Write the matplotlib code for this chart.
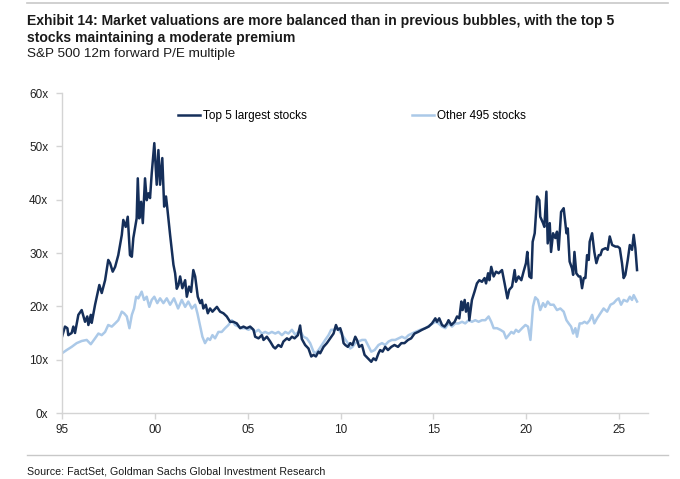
import matplotlib
matplotlib.use("Agg")
import matplotlib.pyplot as plt
from matplotlib.lines import Line2D

# ---- data (decimal year, P/E multiple) ----
top5_years = [
    1995.00, 1995.16, 1995.29, 1995.34, 1995.52, 1995.61, 1995.70, 1995.88,
    1996.06, 1996.24, 1996.36, 1996.42, 1996.55, 1996.60, 1996.78,
    1997.01, 1997.14, 1997.32, 1997.49, 1997.59, 1997.73, 1997.86,
    1998.03, 1998.22, 1998.30, 1998.43, 1998.54, 1998.66, 1998.76, 1998.84,
    1999.02, 1999.08, 1999.16, 1999.26, 1999.35, 1999.47, 1999.56, 1999.65, 1999.74, 1999.83, 1999.97,
    2000.10, 2000.19, 2000.28, 2000.40, 2000.50, 2000.60, 2000.67, 2000.82,
    2001.00, 2001.09, 2001.18, 2001.27, 2001.36, 2001.48, 2001.63, 2001.72, 2001.84, 2001.95,
    2002.07, 2002.17, 2002.31, 2002.44, 2002.53, 2002.61, 2002.74, 2002.85, 2002.97,
    2003.10, 2003.34, 2003.51, 2003.69, 2003.87,
    2004.05, 2004.23, 2004.41, 2004.59, 2004.77, 2004.95,
    2005.13, 2005.31, 2005.40, 2005.58, 2005.76, 2005.85,
    2006.03, 2006.21, 2006.38, 2006.48, 2006.65, 2006.80, 2006.92,
    2007.11, 2007.23, 2007.38, 2007.52, 2007.70, 2007.82, 2007.91,
    2008.09, 2008.27, 2008.42, 2008.54, 2008.67, 2008.81, 2008.90,
    2009.08, 2009.26, 2009.44, 2009.62, 2009.75, 2009.85, 2009.98,
    2010.07, 2010.16, 2010.25, 2010.39, 2010.52, 2010.64, 2010.79, 2010.88,
    2011.00, 2011.15, 2011.29, 2011.47, 2011.65, 2011.77, 2011.90,
    2012.04, 2012.13, 2012.26, 2012.40, 2012.55, 2012.73, 2012.90,
    2013.09, 2013.27, 2013.44, 2013.63, 2013.80, 2013.98,
    2014.17, 2014.38, 2014.56, 2014.74, 2014.92,
    2015.10, 2015.19, 2015.31, 2015.46, 2015.60, 2015.73, 2015.81, 2015.96,
    2016.14, 2016.27, 2016.39, 2016.50, 2016.57, 2016.68, 2016.75, 2016.86, 2016.93,
    2017.07, 2017.21, 2017.34, 2017.47, 2017.61, 2017.75, 2017.83, 2017.94,
    2018.01, 2018.11, 2018.24, 2018.37, 2018.51, 2018.69, 2018.83, 2018.98,
    2019.08, 2019.23, 2019.37, 2019.44, 2019.58, 2019.73, 2019.85, 2019.98,
    2020.05, 2020.16, 2020.27, 2020.34, 2020.45, 2020.58, 2020.70, 2020.75, 2020.90, 2020.97,
    2021.08, 2021.15, 2021.26, 2021.33, 2021.44, 2021.56, 2021.65, 2021.74, 2021.87,
    2022.01, 2022.16, 2022.23, 2022.33, 2022.46, 2022.52, 2022.59, 2022.69, 2022.82, 2022.91,
    2023.00, 2023.09, 2023.18, 2023.27, 2023.36, 2023.41, 2023.54, 2023.66, 2023.77, 2023.90, 2023.99,
    2024.08, 2024.26, 2024.38, 2024.49, 2024.62, 2024.80, 2024.92,
    2025.03, 2025.15, 2025.24, 2025.33, 2025.46, 2025.57, 2025.69, 2025.78, 2025.87, 2025.96,
]
top5_pe = [
    14.3, 16.2, 15.9, 14.6, 15.0, 16.2, 15.0, 18.4,
    19.3, 17.1, 18.1, 16.5, 18.4, 16.9, 20.3,
    24.0, 22.5, 24.9, 28.7, 28.1, 26.5, 27.4,
    29.6, 33.4, 36.2, 34.9, 36.8, 29.6, 29.3, 32.8,
    36.5, 44.0, 36.5, 39.6, 35.6, 44.0, 39.9, 41.2, 40.3, 44.9, 50.6,
    42.8, 49.3, 42.8, 47.8, 38.7, 40.6, 38.4, 33.4,
    27.8, 26.2, 23.3, 24.0, 25.6, 23.4, 24.9, 21.8, 23.7, 22.7,
    26.8, 25.6, 21.8, 20.6, 21.2, 19.6, 20.3, 18.7, 19.6,
    19.0, 19.9, 19.0, 18.7, 18.1,
    17.1, 17.1, 16.8, 15.9, 16.2, 15.9,
    16.2, 15.6, 14.3, 14.0, 14.6, 13.7,
    14.3, 13.4, 12.4, 12.1, 12.75, 12.4, 13.4,
    14.0, 13.7, 14.3, 14.0, 14.6, 16.4, 13.9,
    12.75, 12.1, 10.6, 10.9, 10.6, 11.5, 11.2,
    12.4, 13.1, 14.0, 14.9, 16.5, 15.6, 15.9,
    14.9, 13.1, 12.75, 12.4, 13.1, 12.75, 14.3, 13.7,
    12.4, 12.75, 10.9, 10.25, 9.6, 10.25, 9.9,
    11.2, 11.8, 11.5, 12.4, 11.8, 12.4, 12.75,
    12.4, 13.1, 13.1, 13.7, 14.0, 14.9,
    15.2, 15.6, 15.9, 16.2, 16.8,
    17.75, 17.1, 17.75, 16.5, 16.2, 16.8, 17.4, 16.5,
    17.1, 18.1, 17.75, 20.9, 19.3, 21.2, 19.0, 20.6, 17.4,
    21.2, 22.75, 24.3, 24.9, 24.6, 25.3, 24.3, 26.2,
    24.9, 27.4, 25.6, 26.5, 26.2, 26.8, 24.3, 21.5,
    23.1, 23.7, 26.8, 24.6, 25.6, 24.9, 26.5, 28.1,
    30.2, 25.6, 25.3, 32.1, 33.7, 40.6, 39.9, 36.8, 35.6, 34.9,
    41.5, 31.8, 35.6, 30.2, 33.7, 32.8, 34.0, 30.6, 37.7,
    38.4, 33.7, 34.6, 28.4, 27.1, 25.9, 30.2, 26.2, 25.6, 25.6,
    23.4, 25.3, 25.3, 29.6, 28.7, 32.1, 33.7, 30.2, 28.1, 29.6, 29.6,
    30.6, 30.9, 30.6, 33.1, 31.5, 31.2, 31.2,
    30.9, 28.1, 25.3, 25.9, 28.7, 31.5, 30.6, 33.4, 30.9, 26.8,
]

other_years = [
    1995.00, 1995.25, 1995.52, 1995.79,
    1996.06, 1996.33, 1996.55, 1996.78, 1996.96,
    1997.14, 1997.32, 1997.49, 1997.68, 1997.86,
    1998.03, 1998.22, 1998.34, 1998.49, 1998.63, 1998.76, 1998.88, 1998.99,
    1999.11, 1999.29, 1999.42, 1999.56, 1999.70, 1999.83, 1999.97,
    2000.13, 2000.28, 2000.46, 2000.64, 2000.82,
    2001.03, 2001.25, 2001.45, 2001.63, 2001.80, 2001.99,
    2002.17, 2002.29, 2002.44, 2002.56, 2002.70, 2002.85, 2002.97,
    2003.10, 2003.24, 2003.42, 2003.60, 2003.78, 2003.96,
    2004.14, 2004.32, 2004.50, 2004.68, 2004.86,
    2005.04, 2005.22, 2005.40, 2005.58, 2005.76, 2005.94,
    2006.12, 2006.30, 2006.48, 2006.65, 2006.84,
    2007.02, 2007.19, 2007.38, 2007.55, 2007.82,
    2008.00, 2008.18, 2008.36, 2008.54, 2008.67, 2008.81, 2008.99,
    2009.17, 2009.35, 2009.49, 2009.67, 2009.85,
    2010.03, 2010.21, 2010.39, 2010.52, 2010.64, 2010.79, 2010.96,
    2011.15, 2011.33, 2011.47, 2011.65, 2011.83,
    2012.04, 2012.23, 2012.40, 2012.58, 2012.76, 2012.94,
    2013.12, 2013.30, 2013.48, 2013.66, 2013.84,
    2014.02, 2014.29, 2014.56, 2014.83,
    2015.10, 2015.27, 2015.46, 2015.64, 2015.81,
    2016.00, 2016.17, 2016.35, 2016.54, 2016.71, 2016.89,
    2017.07, 2017.25, 2017.43, 2017.61, 2017.79, 2017.97,
    2018.11, 2018.24, 2018.42, 2018.60, 2018.78, 2018.91,
    2019.05, 2019.19, 2019.32, 2019.44, 2019.58, 2019.77, 2019.95,
    2020.09, 2020.22, 2020.36, 2020.48, 2020.62, 2020.75, 2020.90,
    2021.02, 2021.15, 2021.29, 2021.47, 2021.65, 2021.83,
    2022.01, 2022.16, 2022.28, 2022.41, 2022.52, 2022.64, 2022.73, 2022.87,
    2023.00, 2023.13, 2023.27, 2023.41, 2023.54, 2023.66, 2023.81, 2023.99,
    2024.16, 2024.35, 2024.53, 2024.70, 2024.85, 2024.97,
    2025.10, 2025.24, 2025.43, 2025.57, 2025.69, 2025.78, 2025.96,
]
other_pe = [
    11.2, 11.8, 12.4, 13.1,
    13.5, 13.7, 12.9, 14.0, 14.9,
    14.6, 15.2, 16.5, 16.2, 16.8,
    17.4, 19.0, 18.7, 18.1, 15.9, 18.4, 19.6, 21.8,
    21.5, 22.75, 21.2, 21.8, 19.9, 21.2, 21.8,
    20.6, 21.5, 20.6, 21.5, 20.3,
    21.5, 19.6, 21.2, 19.9, 20.9, 19.6,
    20.3, 18.7, 16.2, 14.3, 13.1, 14.0, 13.7,
    14.6, 14.0, 15.2, 15.2, 15.9, 16.5,
    17.4, 16.5, 16.2, 15.9, 15.9,
    15.6, 15.9, 15.2, 15.6, 14.9, 15.2,
    14.9, 15.2, 14.9, 15.2, 14.6,
    15.2, 14.9, 15.6, 14.7, 15.4,
    14.3, 14.0, 13.1, 11.5, 11.2, 11.8, 12.75,
    13.7, 14.6, 15.6, 15.6, 15.9,
    14.9, 14.0, 13.1, 12.1, 12.4, 13.1, 13.4,
    13.7, 13.7, 12.75, 11.5, 11.8,
    12.75, 13.1, 12.75, 13.4, 13.7, 13.7,
    14.0, 14.3, 14.0, 14.6, 14.9,
    15.2, 15.6, 15.9, 16.5,
    17.1, 16.8, 16.2, 15.9, 16.8,
    16.2, 16.8, 16.8, 17.1, 16.8, 17.4,
    17.1, 17.4, 17.1, 17.4, 17.4, 18.1,
    17.1, 15.9, 15.9, 15.6, 15.2, 14.0,
    14.6, 15.2, 14.9, 15.6, 15.2, 15.9, 16.5,
    16.2, 13.7, 20.0, 21.7, 21.2, 19.3, 20.6,
    19.9, 20.9, 20.3, 20.3, 19.3, 19.6,
    19.0, 17.4, 16.8, 16.2, 14.9, 15.9, 14.3, 16.8,
    16.8, 17.1, 16.8, 17.4, 18.4, 16.8, 17.75, 18.7,
    19.6, 19.0, 20.3, 20.6, 21.2, 21.5,
    20.3, 21.2, 20.9, 21.8, 21.2, 22.1, 20.9,
]

series_names = ["Top 5 largest stocks", "Other 495 stocks"]
y_ticks = [0, 10, 20, 30, 40, 50, 60]
x_ticks = [1995, 2000, 2005, 2010, 2015, 2020, 2025]
x_labels = ["95", "00", "05", "10", "15", "20", "25"]

dark = "#152f5a"
light = "#abc9e8"
grey = "#d4d4d4"

W, H = 680, 479
fig = plt.figure(figsize=(W / 100, H / 100), dpi=100)
ax = fig.add_axes([62 / W, 1 - 413 / H, (648 - 62) / W, (413 - 93) / H])

ax.plot(other_years, other_pe, color=light, lw=1.8, solid_joinstyle="round")
ax.plot(top5_years, top5_pe, color=dark, lw=1.8, solid_joinstyle="round")

ax.set_xlim(1995, 2026.55)
ax.set_ylim(0, 60)
ax.set_yticks(y_ticks)
ax.set_yticklabels([f"{v}x" for v in y_ticks])
ax.set_xticks(x_ticks)
ax.set_xticklabels(x_labels)

for s in ["top", "right"]:
    ax.spines[s].set_visible(False)
for s in ["left", "bottom"]:
    ax.spines[s].set_color(grey)
    ax.spines[s].set_linewidth(1.0)
ax.tick_params(axis="both", colors=grey, length=4, width=1.0,
               labelcolor="#222222", labelsize=8.5)
ax.tick_params(axis="y", pad=6)
ax.tick_params(axis="x", pad=4)
for lab in ax.get_xticklabels() + ax.get_yticklabels():
    lab.set_family(["Liberation Sans", "DejaVu Sans"])

handles = [Line2D([], [], color=dark, lw=1.8), Line2D([], [], color=light, lw=1.8)]
leg = ax.legend(handles, series_names, ncol=2, loc="upper left",
                bbox_to_anchor=((178 - 62) / 586, (413 - 110) / 320),
                frameon=False, borderpad=0, borderaxespad=0,
                handlelength=1.85, handletextpad=0.25, columnspacing=8.9,
                prop={"family": ["Liberation Sans", "DejaVu Sans"], "size": 8.5})

sans = ["Liberation Sans", "DejaVu Sans"]
fig.text(27 / W, 1 - 25 / H,
         "Exhibit 14: Market valuations are more balanced than in previous bubbles, with the top 5",
         family=sans, weight="bold", size=10.1, color="#1a1a1a", va="baseline")
fig.text(27 / W, 1 - 42 / H, "stocks maintaining a moderate premium",
         family=sans, weight="bold", size=10.1, color="#1a1a1a", va="baseline")
fig.text(27 / W, 1 - 57 / H, "S&P 500 12m forward P/E multiple",
         family=sans, size=9.7, color="#1a1a1a", va="baseline")
fig.text(27 / W, 1 - 474 / H, "Source: FactSet, Goldman Sachs Global Investment Research",
         family=sans, size=7.7, color="#1a1a1a", va="baseline")

# separator rules at the top and above the source line
fig.add_artist(Line2D([27 / W, 668 / W], [1 - 3 / H, 1 - 3 / H], color="#c8c8c8", lw=1.2))
fig.add_artist(Line2D([27 / W, 668 / W], [1 - 455 / H, 1 - 455 / H], color="#c8c8c8", lw=1.0))

fig.savefig("out.png", dpi=100, facecolor="white")
